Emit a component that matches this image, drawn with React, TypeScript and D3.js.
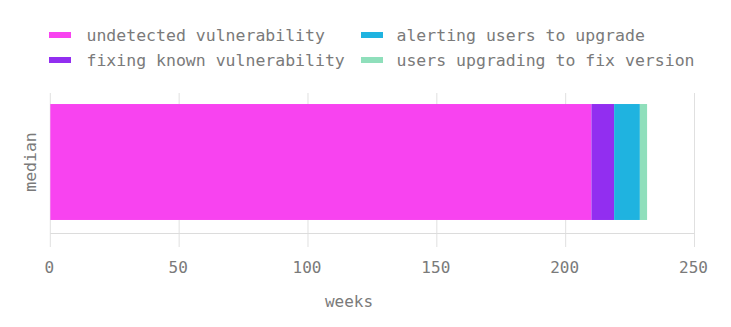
import React from "react";
import * as d3 from "d3";

const categories = ["median"];
const seriesNames = [
  "undetected vulnerability",
  "fixing known vulnerability",
  "alerting users to upgrade",
  "users upgrading to fix version",
];
const seriesValues = [210, 8.8, 10, 2.8];
const seriesColors = ["#f843f0", "#922ef0", "#1fb3e0", "#8fdfbb"];
const xTicks = [0, 50, 100, 150, 200, 250];
const xLabel = "weeks";

const W = 731;
const H = 327;
const FONT = "'DejaVu Sans Mono', 'Liberation Mono', monospace";
const TEXT = "#7a7a7a";

export default function App() {
  const x = d3.scaleLinear().domain([0, 250]).range([50.3, 694.5]);
  const y = d3.scaleBand().domain(categories).range([92, 232]).padding(0.094);

  const stackData = [
    Object.fromEntries(seriesNames.map((n, i) => [n, seriesValues[i]])),
  ];
  const stacked = d3.stack().keys(seriesNames)(stackData as any);

  const legendCols = [
    { swatchX: 49, textX: 86.5 },
    { swatchX: 361, textX: 396.5 },
  ];
  const legendRows = [35, 60];

  return (
    <svg
      width={W}
      height={H}
      style={{ position: "absolute", left: 0, top: 0, background: "#fff" }}
      fontFamily={FONT}
    >
      {/* legend */}
      {seriesNames.map((name, i) => {
        const col = legendCols[Math.floor(i / 2)];
        const rowY = legendRows[i % 2];
        return (
          <g key={name}>
            <rect x={col.swatchX} y={rowY - 3} width={22} height={6} fill={seriesColors[i]} />
            <text x={col.textX} y={rowY} dy="0.35em" fontSize={16.5} fill={TEXT}>
              {name}
            </text>
          </g>
        );
      })}

      {/* gridlines */}
      {xTicks.map((t) => (
        <line key={t} x1={x(t)} x2={x(t)} y1={93} y2={247} stroke="#e0e0e0" strokeWidth={1} />
      ))}
      {/* axis line */}
      <line x1={x(0)} x2={x(250)} y1={233.5} y2={233.5} stroke="#dcdcdc" strokeWidth={1} />

      {/* bars */}
      {stacked.map((s, i) =>
        s.map((d, j) => (
          <rect
            key={`${i}-${j}`}
            x={x(d[0])}
            y={y(categories[j])}
            width={x(d[1]) - x(d[0])}
            height={y.bandwidth()}
            fill={seriesColors[i]}
          />
        ))
      )}

      {/* tick labels */}
      {xTicks.map((t) => (
        <text key={t} x={x(t) - 1} y={267} dy="0.35em" textAnchor="middle" fontSize={16} fill={TEXT}>
          {t}
        </text>
      ))}

      {/* axis titles */}
      <text x={349} y={301} dy="0.35em" textAnchor="middle" fontSize={16} fill={TEXT}>
        {xLabel}
      </text>
      {categories.map((c) => (
        <text
          key={c}
          transform={`translate(30, ${(y(c) as number) + y.bandwidth() / 2}) rotate(-90)`}
          dy="0.35em"
          textAnchor="middle"
          fontSize={16.5}
          fill={TEXT}
        >
          {c}
        </text>
      ))}
    </svg>
  );
}
